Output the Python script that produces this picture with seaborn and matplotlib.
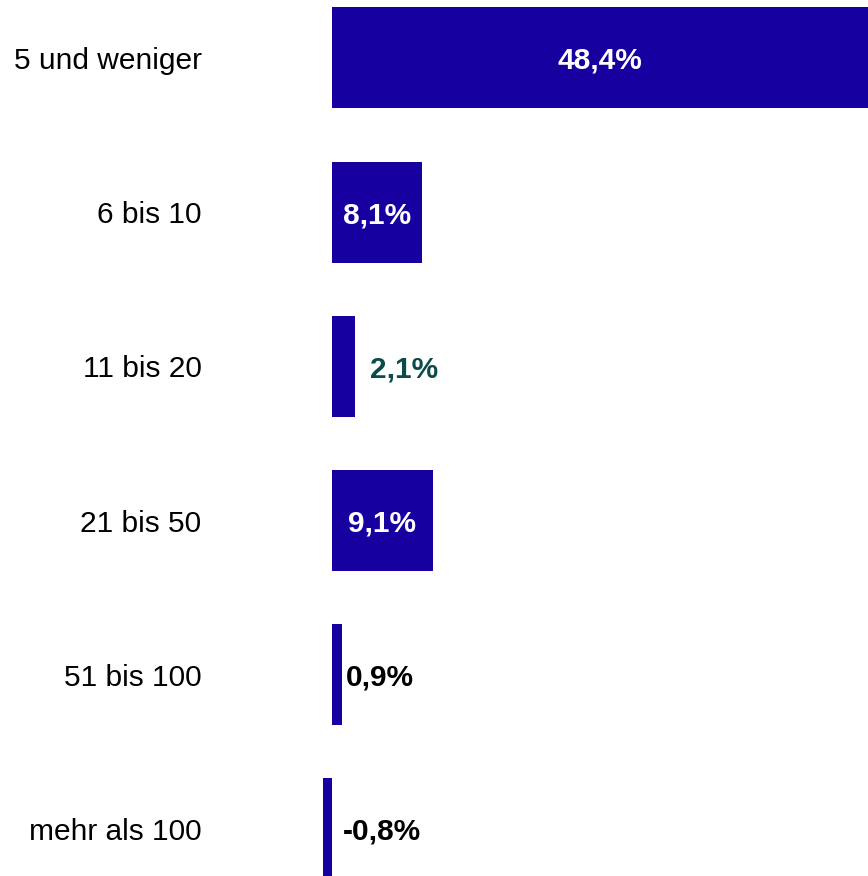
import matplotlib
matplotlib.use("Agg")
import matplotlib.pyplot as plt
import seaborn as sns
import pandas as pd

# Daten
categories = ["5 und weniger", "6 bis 10", "11 bis 20", "21 bis 50", "51 bis 100", "mehr als 100"]
values = [48.4, 8.1, 2.1, 9.1, 0.9, -0.8]
value_labels = ["48,4%", "8,1%", "2,1%", "9,1%", "0,9%", "-0,8%"]

df = pd.DataFrame({"kategorie": categories, "wert": values})

sns.set_theme(style="white")
plt.rcParams["font.family"] = ["Liberation Sans", "DejaVu Sans"]

bar_color = "#1700a0"

fig = plt.figure(figsize=(8.68, 8.76), dpi=100)
ax = fig.add_axes([321 / 868, 0, 547 / 868, 1])

sns.barplot(data=df, x="wert", y="kategorie", orient="h", color=bar_color,
            width=0.655, saturation=1, linewidth=0, ax=ax)

ax.set_xlim(-1.0, 48.4)
ax.set_ylim(5.305, -0.376)

# Beschriftungen der Balken
inside = [True, True, False, True, False, False]
label_colors = ["white", "white", "#0b4b4b", "white", "black", "black"]
offsets_px = [0, 0, 15, 0, 4, 11]
for i, (v, txt) in enumerate(zip(values, value_labels)):
    if inside[i]:
        ax.text(v / 2, i, txt, ha="center", va="center_baseline", color=label_colors[i],
                fontsize=21.5, fontweight="bold")
    else:
        ax.annotate(txt, xy=(max(v, 0), i), xytext=(offsets_px[i] * 0.72, 0),
                    textcoords="offset points", ha="left", va="center_baseline",
                    color=label_colors[i], fontsize=21.5, fontweight="bold")

ax.set_xlabel("")
ax.set_ylabel("")
ax.set_xticks([])
ax.tick_params(axis="y", length=0, pad=86, labelsize=21.5, labelcolor="black")
for s in ax.spines.values():
    s.set_visible(False)

fig.savefig("out.png", dpi=100)
